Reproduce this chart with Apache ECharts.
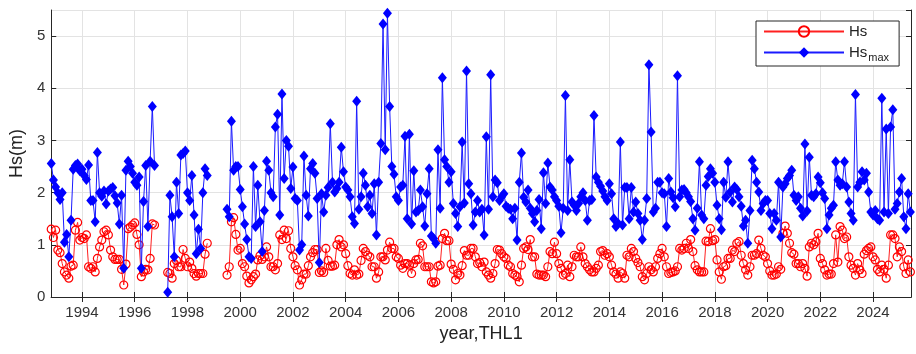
<!DOCTYPE html>
<html>
<head>
<meta charset="utf-8">
<script src="https://cdn.jsdelivr.net/npm/echarts@6/dist/echarts.min.js"></script>
<style>
  html, body { margin: 0; padding: 0; background: #fff; }
  #chart { width: 916px; height: 354px; }
</style>
</head>
<body>
<div id="chart"></div>
<script>
// monthly series, first value = Nov 1992
var startYear = 1992;
var startMonth = 11;

var tickYears = [1994, 1996, 1998, 2000, 2002, 2004, 2006, 2008, 2010, 2012, 2014, 2016,
                 2018, 2020, 2022, 2024];

// monthly mean Hs (m)
var hs = [
    1.30, 1.14,                                                                  // 1992 Nov-Dec
    1.28, 0.90, 0.85, 0.64, 0.48, 0.42, 0.36, 0.59, 0.61, 1.28, 1.43, 1.09,      // 1993
    1.14, 1.12, 1.19, 0.58, 0.55, 0.58, 0.48, 0.74, 0.96, 1.09, 1.25, 1.28,      // 1994
    1.19, 0.90, 0.77, 0.72, 0.72, 0.72, 0.53, 0.23, 0.63, 1.31, 1.34, 1.38,      // 1995
    1.42, 1.20, 1.00, 0.39, 0.48, 0.53, 0.52, 0.74, 1.40, 1.38, null, null,      // 1996
    null, null, null, 0.47, 0.45, 0.36, 0.64, 0.70, 0.58, 0.58, 0.91, 0.74,      // 1997
    0.58, 0.67, 0.55, 0.45, 0.40, 0.45, 0.45, 0.45, 0.82, 1.03, null, null,      // 1998
    null, null, null, null, null, null, 0.42, 0.58, 1.44, 1.52, 1.20, 0.90,      // 1999
    0.93, 0.64, 0.58, 0.40, 0.27, 0.33, 0.39, 0.44, 0.71, 0.79, 0.72, 0.77,      // 2000
    0.96, 0.77, 0.58, 0.58, 0.52, 0.64, 1.19, 1.10, 1.28, 1.12, 1.27, 0.93,      // 2001
    0.77, 0.60, 0.52, 0.23, 0.33, 0.44, 0.44, 0.60, 0.77, 0.85, 0.91, 0.91,      // 2002
    0.47, 0.50, 0.47, 0.93, 0.70, 0.59, 0.59, 0.61, 1.00, 1.10, 0.96, 1.00,      // 2003
    0.83, 0.60, 0.45, 0.42, 0.52, 0.42, 0.44, 0.70, 0.93, 0.87, 0.80, 0.77,      // 2004
    0.58, 0.58, 0.36, 0.48, 0.77, 0.77, 0.71, 0.90, 1.05, 0.93, 0.93, 0.77,      // 2005
    0.74, 0.61, 0.55, 0.64, 0.64, 0.61, 0.45, 0.64, 0.71, 0.72, 1.03, 0.98,      // 2006
    0.58, 0.58, 0.58, 0.29, 0.27, 0.29, 0.59, 0.61, 1.12, 1.22, 1.08, 1.08,      // 2007
    0.63, 0.53, 0.33, 0.45, 0.42, 0.60, 0.89, 0.80, 0.80, 0.93, 0.93, 0.77,      // 2008
    0.64, 0.66, 0.58, 0.67, 0.48, 0.42, 0.36, 0.45, 0.64, 0.91, 0.90, 0.83,      // 2009
    0.77, 0.74, 0.61, 0.58, 0.45, 0.42, 0.39, 0.29, 0.61, 0.93, 0.96, 0.91,      // 2010
    1.10, 0.77, 0.77, 0.44, 0.42, 0.42, 0.42, 0.39, 0.58, 0.87, 0.83, 1.05,      // 2011
    0.83, 0.64, 0.55, 0.42, 0.45, 0.61, 0.39, 0.58, 0.80, 0.77, 0.77, 0.96,      // 2012
    0.77, 0.64, 0.58, 0.52, 0.48, 0.48, 0.55, 0.61, 0.87, 0.89, 0.80, 0.83,      // 2013
    0.77, 0.61, 0.48, 0.44, 0.36, 0.48, 0.45, 0.36, 0.80, 0.77, 0.93, 0.87,      // 2014
    0.74, 0.66, 0.58, 0.39, 0.33, 0.45, 0.58, 0.52, 0.48, 0.58, 0.74, 0.83,      // 2015
    0.93, 0.77, 0.58, 0.45, 0.47, 0.48, 0.50, 0.58, 0.93, 0.90, 0.93, 1.03,      // 2016
    0.93, 1.10, 0.87, 0.60, 0.52, 0.48, 0.48, 0.48, 1.07, 1.06, 1.31, 1.08,      // 2017
    1.10, 0.71, 0.48, 0.34, 0.58, 0.60, 0.74, 0.74, 0.90, 0.87, 1.03, 1.06,      // 2018
    0.80, 0.64, 0.52, 0.42, 0.58, 0.80, 0.80, 0.83, 1.09, 0.93, 0.80, 0.77,      // 2019
    0.64, 0.50, 0.42, 0.42, 0.44, 0.58, 0.53, 1.22, 1.36, 1.22, 1.03, 0.85,      // 2020
    0.82, 0.64, 0.64, 0.58, 0.64, 0.55, 0.40, 0.96, 1.03, 1.00, 1.06, 1.22,      // 2021
    0.74, 0.64, 0.52, 0.42, 0.44, 0.44, 0.64, 1.19, 0.67, 1.35, 1.28, 1.12,      // 2022
    1.15, 0.77, 0.61, 0.55, 0.42, 0.64, 0.52, 0.45, 0.82, 0.89, 0.93, 0.96,      // 2023
    0.77, 0.71, 0.53, 0.48, 0.61, 0.53, 0.36, 0.61, 1.19, 1.19, 1.12, 0.77,      // 2024
    0.96, 0.87, 0.58, 0.45, 0.71, 0.48                                           // 2025 Jan-Jun
];

// monthly maximum Hs (m)
var hsMax = [
    2.56, 2.24,                                                                  // 1992 Nov-Dec
    2.11, 2.00, 1.87, 2.00, 1.05, 1.20, 0.77, 1.47, 2.45, 2.52, 2.55, 2.42,      // 1993
    2.45, 2.33, 2.25, 2.53, 1.85, 1.85, 1.44, 2.77, 2.00, 1.93, 2.03, 1.78,      // 1994
    2.03, 2.07, 2.10, 1.94, 1.80, 1.40, 1.95, 0.55, 2.43, 2.60, 2.50, 2.37,      // 1995
    2.20, 2.14, 2.30, 0.55, 1.83, 2.52, 1.35, 2.60, 3.65, 2.52, null, null,      // 1996
    null, null, null, 0.09, 1.95, 1.54, 0.77, 2.20, 1.60, 2.72, 2.75, 2.80,      // 1997
    2.00, 1.85, 2.33, 1.57, 0.83, 1.30, 0.93, 2.00, 2.46, 2.33, null, null,      // 1998
    null, null, null, null, null, null, 1.68, 1.54, 3.37, 2.43, 2.50, 2.50,      // 1999
    2.06, 1.73, 1.40, 1.10, 0.77, 0.74, 2.50, 1.35, 2.14, 1.44, 0.87, 1.66,      // 2000
    2.60, 2.43, 2.00, 1.92, 3.26, 3.50, 1.57, 3.89, 2.27, 3.00, 2.89, 2.08,      // 2001
    2.49, 1.89, 1.85, 0.90, 1.00, 2.70, 1.95, 1.55, 2.46, 2.56, 2.37, 1.89,      // 2002
    0.66, 1.98, 1.63, 1.95, 2.10, 3.32, 2.20, 2.01, 2.08, 2.20, 2.87, 2.40,      // 2003
    2.11, 2.05, 1.92, 1.54, 1.41, 3.75, 1.68, 1.92, 2.37, 2.14, 1.73, 1.95,      // 2004
    1.60, 2.17, 1.19, 2.20, 2.94, 5.23, 2.82, 5.44, 3.65, 2.50, 2.35, 1.92,      // 2005
    1.85, 2.11, 2.14, 3.08, 1.50, 3.12, 1.40, 2.42, 1.63, 1.66, 2.05, 1.73,      // 2006
    1.36, 1.98, 2.46, 1.17, 1.12, 1.03, 2.82, 1.70, 4.20, 2.63, 2.50, 2.20,      // 2007
    2.40, 1.79, 1.60, 1.35, 1.73, 2.97, 1.80, 4.33, 2.17, 1.98, 1.38, 1.63,      // 2008
    1.85, 1.63, 1.68, 1.19, 3.07, 1.68, 4.26, 1.92, 2.24, 2.19, 1.85, 1.92,      // 2009
    1.98, 1.74, 1.70, 1.68, 1.50, 1.70, 1.09, 2.20, 2.76, 1.91, 1.82, 2.05,      // 2010
    1.70, 1.60, 1.44, 1.66, 1.87, 1.31, 2.38, 1.79, 2.57, 2.11, 2.05, 1.92,      // 2011
    1.85, 1.74, 1.23, 1.70, 3.86, 1.66, 2.63, 1.82, 1.76, 1.66, 1.79, 1.92,      // 2012
    2.00, 1.85, 1.47, 1.85, 1.87, 3.48, 2.30, 2.20, 2.12, 2.03, 1.92, 1.85,      // 2013
    2.17, 1.98, 1.50, 1.35, 1.41, 2.97, 1.38, 2.10, 2.10, 1.50, 2.10, 1.63,      // 2014
    1.82, 1.60, 1.47, 1.10, 1.47, 1.89, 4.45, 3.16, 1.63, 1.70, 2.20, 2.20,      // 2015
    2.00, 1.98, 1.35, 2.27, 2.01, 1.90, 1.73, 4.24, 1.92, 2.05, 2.06, 2.00,      // 2016
    1.92, 1.83, 1.50, 1.28, 1.70, 2.59, 1.57, 1.50, 2.14, 2.31, 2.46, 2.37,      // 2017
    2.20, 1.76, 1.50, 1.29, 2.20, 1.91, 2.59, 2.01, 1.82, 2.11, 2.06, 1.92,      // 2018
    1.74, 1.36, 1.47, 1.03, 1.66, 2.62, 2.46, 2.20, 2.01, 1.66, 1.79, 1.85,      // 2019
    1.85, 1.60, 1.31, 1.60, 1.47, 2.20, 1.15, 2.11, 2.17, 2.27, 2.33, 2.43,      // 2020
    1.95, 1.85, 1.92, 1.70, 1.55, 2.93, 1.65, 2.68, 1.95, 1.92, 1.98, 2.30,      // 2021
    2.19, 2.00, 1.89, 1.31, 1.57, 1.70, 1.76, 2.59, 2.24, 2.14, 2.17, 2.59,      // 2022
    2.11, 1.82, 1.60, 1.47, 3.88, 2.11, 2.20, 2.40, 2.24, 2.37, 2.01, 1.63,      // 2023
    1.57, 1.66, 1.50, 1.47, 3.81, 1.63, 3.22, 1.60, 3.26, 3.59, 1.68, 1.79,      // 2024
    2.01, 2.27, 1.54, 1.31, 1.98, 1.63                                           // 2025 Jan-Jun
];

function toPoints(values) {
    var pts = [];
    for (var i = 0; i < values.length; i++) {
        var t = startYear + (startMonth - 1 + i) / 12;
        pts.push([t, values[i] == null ? '-' : values[i]]);
    }
    return pts;
}

var xMin = startYear + (startMonth - 1) / 12;
var xMax = 2025.44;
var axisColor = '#262626';
var gridColor = '#e3e3e3';
var font = 'Liberation Sans, Arial, sans-serif';

var myChart = echarts.init(document.getElementById('chart'));
var option = {
    animation: false,
    textStyle: { fontFamily: font },
    grid: { left: 45, right: 5, top: 10, bottom: 57 },
    legend: {
        left: 756,
        top: 21,
        orient: 'vertical',
        backgroundColor: '#fff',
        borderColor: axisColor,
        borderWidth: 1,
        padding: [3, 10, 3, 7],
        itemWidth: 80,
        itemHeight: 13,
        itemGap: 6,
        textStyle: { color: '#222', fontSize: 15, fontFamily: font },
        formatter: function(name) {
            return name === 'Hs' ? '{n|Hs}' : '{n|Hs}{s|max}';
        },
        data: ['Hs', 'Hsmax']
    },
    xAxis: [{
        type: 'value',
        min: xMin,
        max: xMax,
        name: 'year,THL1',
        nameLocation: 'middle',
        nameGap: 23,
        nameTextStyle: { color: '#222', fontSize: 18, fontFamily: font },
        axisLine: { lineStyle: { color: axisColor } },
        axisTick: { inside: true, length: 5, customValues: tickYears, lineStyle: { color: axisColor } },
        axisLabel: { customValues: tickYears, color: '#333', fontSize: 15, margin: 8,
                     formatter: function(v) { return String(Math.round(v)); } },
        splitLine: { show: true, lineStyle: { color: gridColor } }
    }, {
        type: 'value',
        position: 'top',
        min: xMin,
        max: xMax,
        axisLine: { show: true, lineStyle: { color: axisColor } },
        axisTick: { show: true, inside: true, length: 5, customValues: tickYears, lineStyle: { color: axisColor } },
        axisLabel: { show: false },
        splitLine: { show: false }
    }],
    yAxis: [{
        type: 'value',
        min: 0,
        max: 5.5,
        interval: 1,
        name: 'Hs(m)',
        nameLocation: 'middle',
        nameGap: 22,
        nameTextStyle: { color: '#222', fontSize: 18, fontFamily: font },
        axisLine: { show: true, lineStyle: { color: axisColor } },
        axisTick: { show: true, inside: true, length: 5, lineStyle: { color: axisColor } },
        axisLabel: { color: '#333', fontSize: 15, margin: 6, showMaxLabel: false },
        splitLine: { show: true, lineStyle: { color: gridColor } }
    }, {
        type: 'value',
        position: 'right',
        min: 0,
        max: 5.5,
        interval: 1,
        axisLine: { show: true, lineStyle: { color: axisColor } },
        axisTick: { show: true, inside: true, length: 5, lineStyle: { color: axisColor } },
        axisLabel: { show: false },
        splitLine: { show: false }
    }],
    series: [{
        name: 'Hs',
        type: 'line',
        data: toPoints(hs),
        symbol: 'circle',
        symbolSize: 8,
        showSymbol: true,
        lineStyle: { color: '#ff2020', width: 1 },
        itemStyle: { color: 'transparent', borderColor: '#ff0000', borderWidth: 1.2 },
        z: 2
    }, {
        name: 'Hsmax',
        type: 'line',
        data: toPoints(hsMax),
        symbol: 'diamond',
        symbolSize: [9, 11],
        showSymbol: true,
        lineStyle: { color: '#1a1aff', width: 1 },
        itemStyle: { color: '#0000ff' },
        z: 3
    }]
};
option.legend.textStyle.rich = {
    n: { fontSize: 15, color: '#222', fontFamily: font },
    s: { fontSize: 11, color: '#222', fontFamily: font, padding: [10, 0, 0, 1] }
};
myChart.setOption(option);
</script>
</body>
</html>
